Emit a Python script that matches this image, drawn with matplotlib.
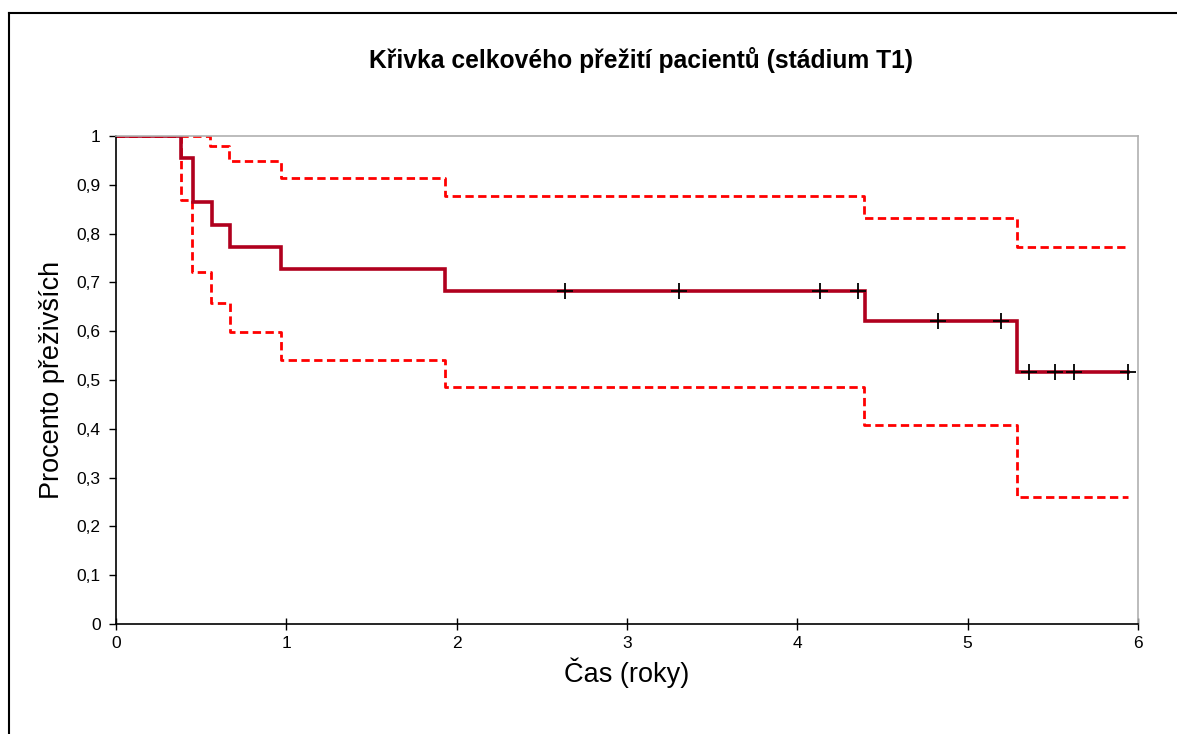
import matplotlib.pyplot as plt
from matplotlib.lines import Line2D
from matplotlib.ticker import FuncFormatter

plt.rcParams['font.family'] = ['Liberation Sans', 'DejaVu Sans']

# Kaplan-Meier estimate (steps-post)
km_time = [0, 0.379, 0.45, 0.561, 0.669, 0.968, 1.93, 4.397, 5.29, 5.943]
km_surv = [1, 0.955, 0.864, 0.818, 0.773, 0.727, 0.682, 0.620, 0.517, 0.517]

# confidence bounds
up_time = [0, 0.552, 0.665, 0.968, 1.93, 4.39, 5.29, 5.943]
up_surv = [1, 0.980, 0.949, 0.913, 0.877, 0.832, 0.772, 0.772]
lo_time = [0, 0.379, 0.444, 0.557, 0.669, 0.968, 1.93, 4.39, 5.29, 5.943]
lo_surv = [1, 0.869, 0.721, 0.658, 0.598, 0.541, 0.486, 0.408, 0.261, 0.261]

# censored observations
cens_time = [2.636, 3.305, 4.133, 4.356, 4.824, 5.196, 5.362, 5.511, 5.626, 5.943]
cens_surv = [0.682, 0.682, 0.682, 0.682, 0.620, 0.620, 0.517, 0.517, 0.517, 0.517]

x_ticks = [0, 1, 2, 3, 4, 5, 6]
y_ticks = [0, 0.1, 0.2, 0.3, 0.4, 0.5, 0.6, 0.7, 0.8, 0.9, 1]

fig = plt.figure(figsize=(11.77, 7.34), dpi=100)
ax = fig.add_axes([116 / 1177, 1 - 624 / 734, 1022 / 1177, 488 / 734])

ax.plot(up_time, up_surv, drawstyle='steps-post', color='#FF0000', lw=2, dashes=(3, 1.6))
ax.plot(lo_time, lo_surv, drawstyle='steps-post', color='#FF0000', lw=2, dashes=(3, 1.6))
ax.plot(km_time, km_surv, drawstyle='steps-post', color='#B0001E', lw=2.6,
        solid_joinstyle='miter')
ax.plot(cens_time, cens_surv, ls='none', marker='+', ms=12, mew=1.3, color='black')

ax.set_xlim(0, 6)
ax.set_ylim(0, 1)
ax.set_xticks(x_ticks)
ax.set_yticks(y_ticks)
ax.yaxis.set_major_formatter(FuncFormatter(lambda v, p: f"{v:g}".replace('.', ',')))
ax.tick_params(axis='x', direction='inout', length=9, width=1, labelsize=12.5, pad=4)
ax.tick_params(axis='y', direction='out', length=5, width=1, labelsize=12.5, pad=6)

for s in ['top', 'right']:
    ax.spines[s].set_color('#B0B0B0')
    ax.spines[s].set_linewidth(1.2)
for s in ['left', 'bottom']:
    ax.spines[s].set_color('black')
    ax.spines[s].set_linewidth(1.2)

ax.set_xlabel('Čas (roky)', fontsize=19.5, labelpad=5)
ax.set_ylabel('Procento přeživších', fontsize=19.5, labelpad=8)
fig.text(641 / 1177, 1 - 60 / 734, 'Křivka celkového přežití pacientů (stádium T1)',
         ha='center', va='center', fontsize=17.7, fontweight='bold')

# outer chart frame (only top and left edges visible)
fig.add_artist(Line2D([9 / 1177, 1], [1 - 13 / 734, 1 - 13 / 734], color='black', lw=1.5))
fig.add_artist(Line2D([9 / 1177, 9 / 1177], [0, 1 - 13 / 734], color='black', lw=1.5))

fig.savefig('out.png', dpi=100)
